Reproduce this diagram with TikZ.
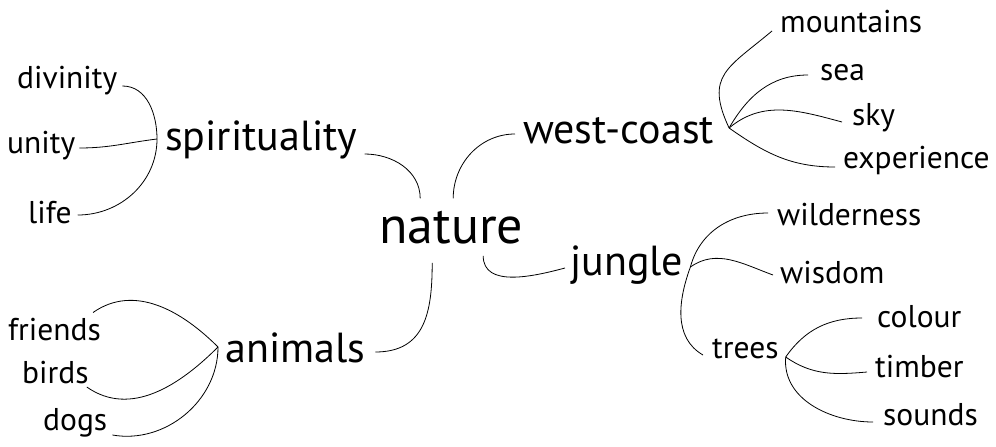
\documentclass[tikz,border=0pt]{standalone}
\usepackage{fontspec}
\setmainfont{PT Sans}
\usetikzlibrary{positioning}
\tikzset{
  centre/.style={inner sep=0pt, font=\fontsize{52}{52}\selectfont, anchor=base west},
  topic/.style={inner sep=0pt, font=\fontsize{42}{42}\selectfont, anchor=base west},
  leaf/.style={inner sep=0pt, font=\fontsize{31.5}{31.5}\selectfont, anchor=base west},
  link/.style={line width=0.8pt}
}
\begin{document}
\begin{tikzpicture}[x=1pt,y=-1pt]
  \useasboundingbox (0,0) rectangle (996,447);
  % centre and main branches
  \node[centre] (nature) at (379,243) {nature};
  \node[topic] (spirituality) at (165,150) {spirituality};
  \node[topic] (westcoast) at (523,143) {west-coast};
  \node[topic] (jungle) at (570,275) {jungle};
  \node[topic] (animals) at (225,362) {animals};
  % leaves
  \foreach \n/\x/\y in {divinity/17/88, unity/7/153, life/28/223,
      friends/8/340, birds/22/383, dogs/43/430,
      mountains/780/32, sea/820/80, sky/852/125, experience/843/168,
      wilderness/777/225, wisdom/780/283, trees/712/358,
      colour/877/327, timber/875/377, sounds/883/425}
    \node[leaf] (\n) at (\x,\y) {\n};
  % branching points
  \coordinate (spHub) at ([xshift=-8pt,yshift=11pt]spirituality.base west);
  \coordinate (anHub) at ([xshift=-7pt,yshift=15pt]animals.base west);
  \coordinate (wcHub) at ([xshift=15pt,yshift=15pt]westcoast.base east);
  \coordinate (juHub) at ([xshift=7pt,yshift=8pt]jungle.base east);
  \coordinate (trHub) at ([xshift=7pt,yshift=1pt]trees.base east);
  % nature to main branches
  \draw[link] ([xshift=7pt,yshift=-4pt]spirituality.base east) to[out=0,in=90] ([xshift=-31pt,yshift=12pt]nature.north);
  \draw[link] ([xshift=2pt,yshift=12pt]nature.north) to[out=90,in=180] ([xshift=-8pt,yshift=9pt]westcoast.base west);
  \draw[link] ([xshift=32pt,yshift=-12pt]nature.south) to[out=-90,in=195] ([xshift=-5pt,yshift=7pt]jungle.base west);
  \draw[link] ([xshift=-19pt,yshift=-19pt]nature.south) to[out=-90,in=0,looseness=1.2] ([xshift=10pt,yshift=10pt]animals.base east);
  % spirituality
  \draw[link] ([xshift=5pt,yshift=2pt]divinity.base east) to[out=0,in=90] (spHub);
  \draw[link] ([xshift=4pt,yshift=5pt]unity.base east) to[out=0,in=187] (spHub);
  \draw[link] ([xshift=6pt,yshift=8pt]life.base east) to[out=0,in=-90] (spHub);
  % animals
  \draw[link] ([xshift=-8pt,yshift=5pt]friends.north east) to[out=35,in=135] (anHub);
  \draw[link] ([xshift=-2pt,yshift=-4pt]birds.base east) to[out=-35,in=225] (anHub);
  \draw[link] ([xshift=5pt,yshift=-5pt]dogs.base east) to[out=-10,in=-90] (anHub);
  % west-coast
  \draw[link] (wcHub) to[out=115,in=-140,looseness=1.4] ([xshift=-8pt,yshift=1pt]mountains.base west);
  \draw[link] (wcHub) to[out=60,in=180] ([xshift=-12pt,yshift=5pt]sea.base west);
  \draw[link] (wcHub) to[out=40,in=165] ([xshift=-10pt,yshift=3pt]sky.base west);
  \draw[link] (wcHub) to[out=-35,in=180] ([xshift=-8pt,yshift=1pt]experience.base west);
  % jungle
  \draw[link] (juHub) to[out=75,in=180] ([xshift=-9pt,yshift=12pt]wilderness.base west);
  \draw[link] (juHub) to[out=35,in=160] ([xshift=-7pt,yshift=8pt]wisdom.base west);
  \draw[link] (juHub) to[out=-110,in=150] ([xshift=-9pt,yshift=3pt]trees.base west);
  % trees
  \draw[link] (trHub) to[out=55,in=180] ([xshift=-15pt,yshift=9pt]colour.base west);
  \draw[link] (trHub) to[out=-35,in=185] ([xshift=-8pt,yshift=5pt]timber.base west);
  \draw[link] (trHub) to[out=-95,in=180] ([xshift=-10pt,yshift=3pt]sounds.base west);
\end{tikzpicture}
\end{document}
